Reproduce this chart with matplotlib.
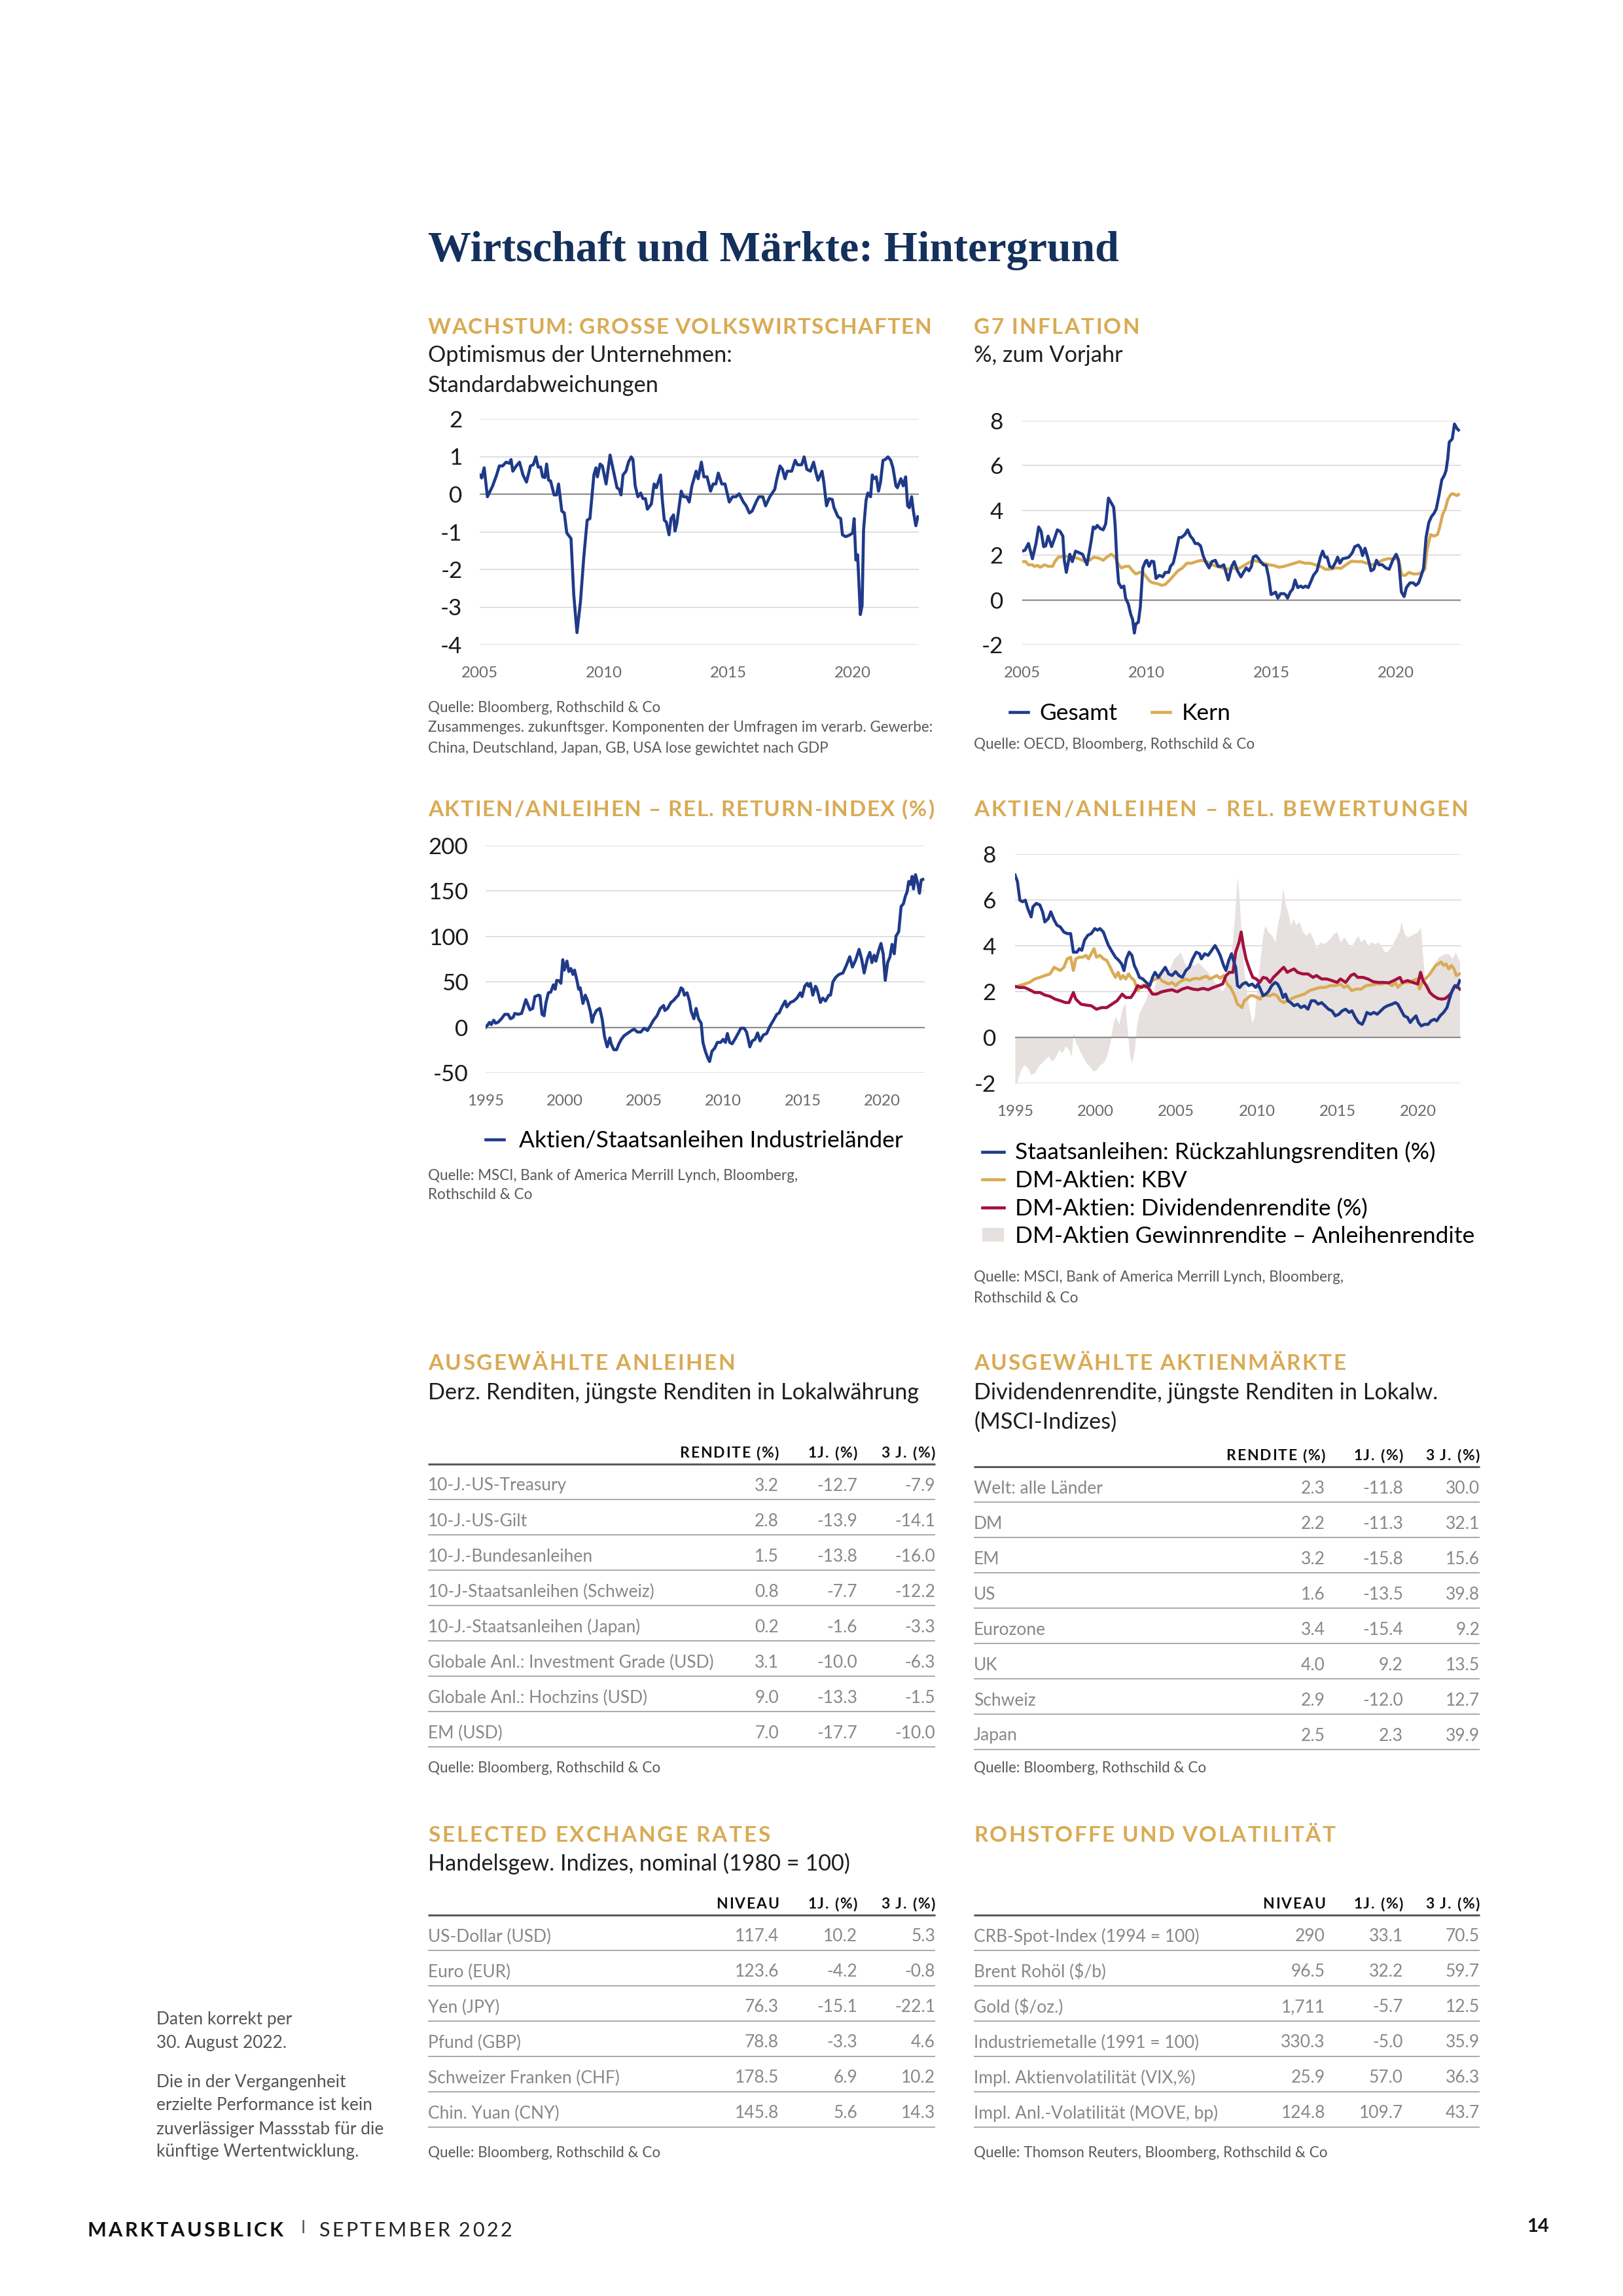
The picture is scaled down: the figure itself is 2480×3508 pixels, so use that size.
import matplotlib
matplotlib.use('Agg')
import matplotlib.pyplot as plt
from matplotlib.lines import Line2D
from matplotlib.font_manager import FontProperties

# ---------------- data ----------------
# business optimism, std. deviations (year, value)
growth = [(2005.00, 0.51), (2005.08, 0.43), (2005.18, 0.70), (2005.31, -0.07), (2005.52, 0.22), (2005.68, 0.51),
          (2005.79, 0.75), (2005.92, 0.75), (2006.06, 0.85), (2006.19, 0.82), (2006.26, 0.92), (2006.33, 0.61),
          (2006.47, 0.75), (2006.60, 0.85), (2006.74, 0.51), (2006.88, 0.32), (2007.04, 0.75), (2007.15, 0.78),
          (2007.26, 0.99), (2007.35, 0.72), (2007.45, 0.72), (2007.53, 0.46), (2007.62, 0.44), (2007.69, 0.80),
          (2007.77, 0.37), (2007.85, 0.35), (2007.99, -0.02), (2008.09, -0.02), (2008.17, 0.27), (2008.30, -0.45),
          (2008.40, -0.50), (2008.50, -1.03), (2008.67, -1.18), (2008.78, -2.67), (2008.91, -3.68), (2009.05, -2.86),
          (2009.18, -1.70), (2009.32, -0.69), (2009.43, -0.65), (2009.59, 0.51), (2009.67, 0.70), (2009.73, 0.46),
          (2009.84, 0.80), (2009.93, 0.75), (2010.08, 0.27), (2010.24, 1.04), (2010.35, 0.70), (2010.52, 0.17),
          (2010.61, 0.13), (2010.68, -0.02), (2010.76, 0.51), (2010.88, 0.61), (2010.98, 0.85), (2011.09, 0.99),
          (2011.16, 0.92), (2011.25, 0.22), (2011.36, -0.07), (2011.47, 0.03), (2011.56, -0.12), (2011.66, -0.12),
          (2011.74, -0.40), (2011.90, -0.26), (2012.01, 0.27), (2012.10, 0.17), (2012.27, 0.51), (2012.34, -0.16),
          (2012.42, -0.69), (2012.50, -0.74), (2012.61, -1.08), (2012.69, -0.65), (2012.79, -0.55), (2012.85, -0.98),
          (2012.92, -0.79), (2013.10, 0.08), (2013.19, -0.07), (2013.32, -0.07), (2013.42, -0.21), (2013.53, 0.22),
          (2013.70, 0.61), (2013.78, 0.41), (2013.91, 0.85), (2014.01, 0.46), (2014.14, 0.46), (2014.28, 0.08),
          (2014.38, 0.27), (2014.49, 0.27), (2014.59, 0.56), (2014.73, 0.27), (2014.86, 0.27), (2015.03, -0.21),
          (2015.16, -0.07), (2015.30, -0.07), (2015.43, 0.01), (2015.60, -0.21), (2015.71, -0.31), (2015.84, -0.50),
          (2015.95, -0.45), (2016.11, -0.21), (2016.22, -0.07), (2016.38, -0.07), (2016.49, -0.31), (2016.66, -0.07),
          (2016.86, 0.13), (2016.93, 0.37), (2017.07, 0.75), (2017.17, 0.66), (2017.27, 0.41), (2017.36, 0.61),
          (2017.54, 0.61), (2017.68, 0.90), (2017.77, 0.78), (2017.94, 0.78), (2018.04, 0.99), (2018.15, 0.66),
          (2018.29, 0.61), (2018.42, 0.85), (2018.52, 0.56), (2018.60, 0.37), (2018.76, 0.61), (2018.83, 0.32),
          (2018.94, -0.31), (2019.04, -0.12), (2019.17, -0.14), (2019.24, -0.36), (2019.40, -0.60), (2019.51, -0.65),
          (2019.58, -1.08), (2019.71, -1.13), (2019.89, -1.08), (2019.99, -1.03), (2020.05, -0.65), (2020.12, -1.75),
          (2020.19, -1.61), (2020.30, -3.20), (2020.37, -2.96), (2020.43, -0.93), (2020.53, -0.16), (2020.60, 0.03),
          (2020.71, -0.07), (2020.78, 0.51), (2020.84, 0.41), (2020.94, 0.46), (2021.03, 0.08), (2021.11, 0.32),
          (2021.21, 0.90), (2021.30, 0.92), (2021.41, 0.99), (2021.52, 0.90), (2021.61, 0.70), (2021.73, 0.22),
          (2021.79, 0.17), (2021.93, 0.41), (2022.02, 0.22), (2022.12, 0.46), (2022.20, -0.31), (2022.27, -0.36),
          (2022.36, -0.07), (2022.43, -0.45), (2022.53, -0.84), (2022.61, -0.60)]

# G7 inflation, headline (Gesamt) and core (Kern)
infl_total = [(2005.00, 2.18), (2005.11, 2.22), (2005.25, 2.52), (2005.41, 1.84), (2005.55, 2.52), (2005.66, 3.26),
              (2005.76, 3.06), (2005.86, 2.38), (2005.94, 2.41), (2006.04, 2.85), (2006.18, 2.38), (2006.31, 2.79),
              (2006.41, 3.13), (2006.52, 3.06), (2006.63, 2.85), (2006.69, 1.77), (2006.77, 1.23), (2006.91, 2.04),
              (2007.01, 1.71), (2007.14, 2.18), (2007.28, 2.11), (2007.42, 2.04), (2007.60, 1.57), (2007.77, 2.65),
              (2007.85, 3.26), (2007.93, 3.19), (2008.01, 3.33), (2008.13, 3.19), (2008.25, 3.13), (2008.35, 3.40),
              (2008.46, 4.55), (2008.57, 4.34), (2008.67, 4.14), (2008.73, 3.33), (2008.80, 1.71), (2008.87, 0.76),
              (2008.98, 0.55), (2009.08, 0.62), (2009.15, 0.08), (2009.26, -0.19), (2009.36, -0.66), (2009.43, -0.87),
              (2009.50, -1.48), (2009.56, -1.07), (2009.66, -1.00), (2009.74, -0.32), (2009.84, 1.43), (2009.95, 1.73),
              (2010.00, 1.77), (2010.09, 1.50), (2010.19, 1.73), (2010.28, 1.71), (2010.37, 0.96), (2010.50, 1.10),
              (2010.64, 1.03), (2010.74, 1.23), (2010.88, 1.23), (2010.95, 1.50), (2011.06, 1.64), (2011.16, 2.11),
              (2011.29, 2.79), (2011.39, 2.79), (2011.53, 2.92), (2011.64, 3.13), (2011.75, 2.85), (2011.85, 2.72),
              (2011.94, 2.52), (2012.05, 2.52), (2012.16, 2.41), (2012.26, 1.98), (2012.36, 1.71), (2012.50, 1.43),
              (2012.61, 1.71), (2012.75, 1.77), (2012.86, 1.50), (2012.99, 1.50), (2013.09, 1.57), (2013.27, 0.89),
              (2013.41, 1.50), (2013.51, 1.71), (2013.64, 1.30), (2013.78, 1.03), (2013.88, 1.23), (2013.99, 1.43),
              (2014.10, 1.30), (2014.20, 1.50), (2014.27, 1.91), (2014.38, 1.98), (2014.47, 1.87), (2014.57, 1.71),
              (2014.68, 1.57), (2014.79, 1.54), (2014.89, 1.03), (2014.99, 0.24), (2015.07, 0.28), (2015.17, 0.35),
              (2015.26, 0.08), (2015.37, 0.28), (2015.51, 0.28), (2015.58, 0.22), (2015.65, 0.08), (2015.76, 0.35),
              (2015.86, 0.49), (2015.95, 0.89), (2016.06, 0.55), (2016.18, 0.62), (2016.27, 0.55), (2016.37, 0.62),
              (2016.48, 0.55), (2016.59, 0.83), (2016.69, 1.10), (2016.83, 1.30), (2016.97, 1.91), (2017.06, 2.18),
              (2017.15, 1.91), (2017.24, 1.91), (2017.34, 1.50), (2017.45, 1.43), (2017.59, 1.71), (2017.66, 1.91),
              (2017.75, 1.64), (2017.86, 1.84), (2018.00, 1.87), (2018.11, 1.91), (2018.25, 2.11), (2018.35, 2.38),
              (2018.49, 2.45), (2018.58, 2.31), (2018.66, 1.98), (2018.76, 2.31), (2018.90, 1.77), (2019.00, 1.30),
              (2019.11, 1.37), (2019.22, 1.77), (2019.32, 1.57), (2019.45, 1.57), (2019.59, 1.43), (2019.73, 1.37),
              (2019.87, 1.77), (2020.01, 2.04), (2020.11, 1.77), (2020.22, 0.35), (2020.33, 0.15), (2020.42, 0.55),
              (2020.56, 0.76), (2020.70, 0.76), (2020.80, 0.65), (2020.91, 0.76), (2021.02, 1.10), (2021.11, 1.43),
              (2021.21, 2.79), (2021.32, 3.46), (2021.43, 3.73), (2021.53, 3.87), (2021.62, 4.07), (2021.73, 4.68),
              (2021.84, 5.36), (2021.94, 5.56), (2022.01, 5.77), (2022.08, 6.31), (2022.14, 7.05), (2022.26, 7.19),
              (2022.35, 7.86), (2022.45, 7.66), (2022.51, 7.59)]

infl_core = [(2005.00, 1.71), (2005.14, 1.71), (2005.25, 1.57), (2005.41, 1.57), (2005.48, 1.50), (2005.62, 1.54),
             (2005.72, 1.46), (2005.90, 1.57), (2006.04, 1.50), (2006.22, 1.50), (2006.31, 1.71), (2006.45, 1.91),
             (2006.66, 1.95), (2006.87, 1.95), (2007.07, 1.91), (2007.28, 1.84), (2007.49, 1.73), (2007.70, 1.77),
             (2007.88, 1.91), (2008.07, 1.87), (2008.25, 1.77), (2008.39, 1.91), (2008.57, 2.04), (2008.73, 1.91),
             (2008.87, 1.57), (2008.98, 1.43), (2009.15, 1.50), (2009.29, 1.50), (2009.43, 1.30), (2009.56, 1.16),
             (2009.70, 1.23), (2009.84, 1.23), (2009.98, 1.03), (2010.12, 0.83), (2010.26, 0.76), (2010.42, 0.73),
             (2010.60, 0.65), (2010.74, 0.69), (2010.92, 0.89), (2011.09, 1.10), (2011.25, 1.30), (2011.43, 1.43),
             (2011.61, 1.64), (2011.80, 1.64), (2011.98, 1.71), (2012.19, 1.77), (2012.40, 1.71), (2012.61, 1.57),
             (2012.81, 1.50), (2013.02, 1.43), (2013.23, 1.37), (2013.44, 1.43), (2013.64, 1.37), (2013.85, 1.50),
             (2014.06, 1.64), (2014.27, 1.77), (2014.47, 1.71), (2014.68, 1.64), (2014.89, 1.57), (2015.10, 1.54),
             (2015.30, 1.46), (2015.51, 1.50), (2015.72, 1.57), (2015.93, 1.64), (2016.13, 1.71), (2016.34, 1.64),
             (2016.55, 1.64), (2016.76, 1.57), (2016.97, 1.50), (2017.17, 1.37), (2017.38, 1.37), (2017.59, 1.43),
             (2017.80, 1.41), (2018.00, 1.57), (2018.21, 1.73), (2018.42, 1.71), (2018.62, 1.71), (2018.83, 1.64),
             (2019.04, 1.57), (2019.25, 1.64), (2019.45, 1.77), (2019.66, 1.84), (2019.87, 1.84), (2020.05, 1.84),
             (2020.15, 1.57), (2020.24, 1.10), (2020.38, 1.10), (2020.52, 1.23), (2020.70, 1.16), (2020.88, 1.16),
             (2021.05, 1.23), (2021.16, 1.37), (2021.25, 2.25), (2021.39, 2.92), (2021.53, 2.85), (2021.67, 2.92),
             (2021.76, 3.26), (2021.87, 3.80), (2021.98, 4.07), (2022.08, 4.48), (2022.18, 4.68), (2022.26, 4.75),
             (2022.35, 4.71), (2022.45, 4.66), (2022.51, 4.71)]

# equity / bond relative return index (%)
rel_return = [(1995.00, 0.0), (1995.15, 3.0), (1995.25, 5.5), (1995.36, 3.0), (1995.51, 7.8), (1995.63, 4.5),
              (1995.78, 5.5), (1996.00, 9.4), (1996.21, 14.3), (1996.42, 14.3), (1996.57, 9.4), (1996.74, 11.0),
              (1996.84, 15.3), (1997.06, 14.3), (1997.27, 15.3), (1997.37, 20.8), (1997.54, 30.5), (1997.69, 24.0),
              (1997.80, 19.2), (1997.97, 20.8), (1998.11, 33.8), (1998.33, 35.4), (1998.43, 34.8), (1998.56, 14.3),
              (1998.69, 12.7), (1998.81, 27.3), (1998.96, 38.0), (1999.11, 38.7), (1999.28, 46.8), (1999.39, 41.9),
              (1999.49, 51.7), (1999.66, 51.0), (1999.75, 48.4), (1999.87, 74.4), (1999.96, 63.0), (2000.13, 72.8),
              (2000.25, 61.4), (2000.38, 64.7), (2000.51, 58.2), (2000.61, 63.0), (2000.76, 51.7), (2000.87, 41.9),
              (2000.97, 43.5), (2001.14, 26.3), (2001.29, 35.4), (2001.44, 28.9), (2001.61, 17.5), (2001.72, 5.5),
              (2001.82, 12.7), (2001.99, 18.5), (2002.20, 20.8), (2002.35, 9.4), (2002.50, -10.0), (2002.67, -21.5),
              (2002.84, -11.7), (2002.92, -18.2), (2003.09, -24.7), (2003.26, -24.7), (2003.41, -18.2), (2003.56, -13.3),
              (2003.73, -9.4), (2003.94, -6.8), (2004.15, -4.2), (2004.36, -2.0), (2004.58, -5.2), (2004.79, -5.2),
              (2005.00, -1.0), (2005.21, -3.6), (2005.38, 1.3), (2005.59, 7.8), (2005.81, 12.7), (2006.02, 20.8),
              (2006.23, 24.0), (2006.31, 18.5), (2006.48, 20.8), (2006.69, 27.3), (2006.86, 29.6), (2007.01, 32.8),
              (2007.16, 35.4), (2007.33, 43.5), (2007.44, 41.9), (2007.54, 35.4), (2007.71, 38.0), (2007.86, 28.9),
              (2007.97, 17.5), (2008.14, 9.4), (2008.28, 20.8), (2008.43, 9.4), (2008.60, 4.5), (2008.71, -16.6),
              (2008.86, -26.3), (2009.03, -34.4), (2009.13, -37.7), (2009.28, -26.3), (2009.45, -23.0), (2009.62, -16.6),
              (2009.83, -16.6), (2009.98, -13.3), (2010.13, -16.6), (2010.25, -6.8), (2010.40, -16.6), (2010.55, -18.2),
              (2010.72, -13.3), (2010.93, -6.8), (2011.10, -1.0), (2011.31, -1.0), (2011.46, -5.2), (2011.57, -13.3),
              (2011.67, -21.5), (2011.82, -15.0), (2011.99, -13.3), (2012.16, -6.2), (2012.31, -15.0), (2012.52, -8.5),
              (2012.73, -6.8), (2012.94, 1.3), (2013.16, 7.8), (2013.37, 14.3), (2013.52, 15.9), (2013.69, 22.4),
              (2013.90, 28.9), (2014.00, 22.4), (2014.22, 27.3), (2014.43, 28.9), (2014.64, 32.2), (2014.85, 38.0),
              (2014.96, 33.8), (2015.13, 45.2), (2015.28, 48.4), (2015.38, 45.2), (2015.49, 48.4), (2015.64, 35.4),
              (2015.81, 45.2), (2015.91, 41.9), (2016.12, 27.3), (2016.27, 32.2), (2016.44, 28.9), (2016.65, 35.4),
              (2016.76, 35.4), (2016.91, 50.0), (2017.08, 54.9), (2017.29, 58.2), (2017.54, 59.8), (2017.75, 67.9),
              (2017.97, 77.7), (2018.14, 66.3), (2018.35, 74.4), (2018.56, 85.8), (2018.73, 74.4), (2018.88, 59.8),
              (2019.09, 76.0), (2019.24, 82.5), (2019.37, 71.2), (2019.51, 79.3), (2019.62, 72.8), (2019.79, 84.2),
              (2019.94, 92.3), (2020.08, 80.9), (2020.21, 51.7), (2020.36, 71.2), (2020.51, 77.7), (2020.64, 91.3),
              (2020.78, 80.9), (2020.89, 100.4), (2021.06, 105.3), (2021.21, 132.9), (2021.36, 136.2), (2021.48, 144.3),
              (2021.59, 149.2), (2021.69, 160.5), (2021.80, 157.3), (2021.91, 166.1), (2021.99, 152.4), (2022.12, 168.0),
              (2022.27, 157.3), (2022.37, 147.6), (2022.48, 162.2), (2022.58, 162.8)]

# relative valuations: bond yields, DM P/B, DM dividend yield, earnings yield gap
bond_yld = [(1995.00, 7.09), (1995.15, 6.80), (1995.30, 5.99), (1995.47, 5.92), (1995.64, 5.99), (1995.79, 5.63),
            (1996.00, 5.26), (1996.11, 5.70), (1996.32, 5.85), (1996.54, 5.78), (1996.71, 5.48), (1996.85, 5.04),
            (1997.07, 5.19), (1997.22, 5.48), (1997.43, 5.12), (1997.60, 4.90), (1997.81, 4.82), (1998.03, 4.60),
            (1998.24, 4.53), (1998.45, 4.53), (1998.62, 3.72), (1998.84, 3.72), (1998.99, 3.87), (1999.14, 3.80),
            (1999.31, 4.24), (1999.52, 4.46), (1999.73, 4.53), (1999.95, 4.75), (2000.12, 4.68), (2000.27, 4.75),
            (2000.48, 4.60), (2000.63, 4.31), (2000.80, 4.01), (2000.97, 3.80), (2001.23, 3.50), (2001.44, 3.36),
            (2001.61, 3.21), (2001.76, 2.92), (2001.91, 3.43), (2002.08, 3.72), (2002.25, 3.58), (2002.40, 3.14),
            (2002.55, 2.92), (2002.72, 2.62), (2002.93, 2.55), (2003.14, 2.40), (2003.36, 2.26), (2003.53, 2.62),
            (2003.68, 2.84), (2003.89, 2.62), (2004.10, 2.84), (2004.32, 3.06), (2004.53, 2.77), (2004.74, 2.70),
            (2004.96, 2.87), (2005.17, 2.70), (2005.38, 2.62), (2005.60, 2.92), (2005.81, 3.06), (2006.02, 3.43),
            (2006.24, 3.72), (2006.45, 3.65), (2006.56, 3.43), (2006.77, 3.65), (2006.98, 3.58), (2007.20, 3.80),
            (2007.41, 4.01), (2007.58, 3.80), (2007.73, 3.58), (2007.94, 3.14), (2008.09, 2.92), (2008.26, 3.36),
            (2008.43, 3.65), (2008.58, 3.29), (2008.69, 3.06), (2008.80, 2.26), (2008.94, 2.18), (2009.12, 2.33),
            (2009.33, 2.40), (2009.50, 2.26), (2009.71, 2.33), (2009.93, 2.18), (2010.07, 2.33), (2010.22, 2.11),
            (2010.39, 1.82), (2010.56, 1.89), (2010.71, 1.99), (2010.93, 2.26), (2011.14, 2.40), (2011.29, 2.33),
            (2011.46, 2.11), (2011.63, 1.74), (2011.78, 1.89), (2011.93, 1.60), (2012.10, 1.52), (2012.31, 1.38),
            (2012.53, 1.45), (2012.74, 1.30), (2012.95, 1.38), (2013.17, 1.23), (2013.38, 1.60), (2013.59, 1.60),
            (2013.81, 1.45), (2014.02, 1.52), (2014.23, 1.38), (2014.45, 1.23), (2014.66, 1.16), (2014.87, 0.94),
            (2015.09, 1.01), (2015.30, 1.16), (2015.51, 1.23), (2015.73, 1.09), (2015.90, 1.16), (2016.11, 0.87),
            (2016.32, 0.65), (2016.54, 0.57), (2016.68, 0.79), (2016.83, 1.09), (2017.05, 1.01), (2017.26, 1.09),
            (2017.47, 1.01), (2017.69, 1.16), (2017.90, 1.30), (2018.11, 1.38), (2018.39, 1.45), (2018.60, 1.52),
            (2018.75, 1.45), (2018.92, 1.23), (2019.14, 0.94), (2019.35, 0.87), (2019.52, 0.65), (2019.67, 0.79),
            (2019.88, 0.94), (2020.03, 0.65), (2020.20, 0.50), (2020.41, 0.57), (2020.63, 0.57), (2020.80, 0.72),
            (2021.01, 0.79), (2021.16, 0.72), (2021.37, 0.94), (2021.59, 1.09), (2021.80, 1.30), (2021.95, 1.67),
            (2022.12, 2.04), (2022.29, 2.26), (2022.43, 2.18), (2022.59, 2.48)]

dm_pb = [(1995.00, 2.18), (1995.26, 2.26), (1995.58, 2.33), (1995.90, 2.40), (1996.22, 2.55), (1996.54, 2.62),
         (1996.85, 2.70), (1997.17, 2.77), (1997.43, 3.06), (1997.60, 2.99), (1997.81, 2.92), (1998.03, 3.06),
         (1998.24, 3.43), (1998.45, 3.50), (1998.62, 2.92), (1998.77, 3.43), (1998.99, 3.50), (1999.20, 3.50),
         (1999.41, 3.58), (1999.56, 3.43), (1999.73, 3.65), (1999.90, 3.87), (2000.05, 3.50), (2000.27, 3.58),
         (2000.48, 3.43), (2000.69, 3.36), (2000.91, 3.06), (2001.06, 2.84), (2001.23, 2.62), (2001.40, 2.84),
         (2001.55, 2.55), (2001.70, 2.70), (2001.87, 2.55), (2002.04, 2.77), (2002.19, 2.62), (2002.40, 2.48),
         (2002.61, 2.04), (2002.76, 2.18), (2002.93, 2.29), (2003.10, 2.18), (2003.32, 2.33), (2003.53, 2.48),
         (2003.74, 2.55), (2003.96, 2.62), (2004.10, 2.48), (2004.32, 2.40), (2004.53, 2.33), (2004.74, 2.40),
         (2004.96, 2.26), (2005.17, 2.40), (2005.38, 2.48), (2005.59, 2.55), (2005.81, 2.48), (2006.02, 2.55),
         (2006.24, 2.58), (2006.45, 2.55), (2006.66, 2.62), (2006.87, 2.67), (2007.09, 2.55), (2007.30, 2.62),
         (2007.52, 2.70), (2007.73, 2.58), (2007.94, 2.70), (2008.16, 2.33), (2008.37, 2.18), (2008.58, 1.89),
         (2008.80, 1.45), (2008.94, 1.38), (2009.07, 1.30), (2009.22, 1.60), (2009.37, 1.67), (2009.58, 1.82),
         (2009.80, 1.82), (2010.01, 1.74), (2010.22, 1.67), (2010.39, 1.89), (2010.61, 1.82), (2010.82, 1.82),
         (2011.03, 1.89), (2011.25, 1.82), (2011.46, 1.60), (2011.67, 1.52), (2011.89, 1.60), (2012.10, 1.67),
         (2012.31, 1.74), (2012.63, 1.82), (2012.95, 1.89), (2013.27, 2.04), (2013.59, 2.11), (2013.91, 2.18),
         (2014.23, 2.18), (2014.55, 2.26), (2014.87, 2.26), (2015.19, 2.33), (2015.41, 2.18), (2015.62, 2.26),
         (2015.90, 2.04), (2016.15, 2.11), (2016.47, 2.11), (2016.79, 2.26), (2017.11, 2.29), (2017.43, 2.33),
         (2017.75, 2.33), (2018.07, 2.40), (2018.39, 2.26), (2018.60, 2.40), (2018.75, 2.18), (2018.97, 2.33),
         (2019.18, 2.40), (2019.46, 2.40), (2019.67, 2.48), (2019.95, 2.55), (2020.10, 2.11), (2020.25, 2.40),
         (2020.46, 2.55), (2020.67, 2.70), (2020.88, 2.92), (2021.10, 3.14), (2021.27, 3.21), (2021.44, 3.29),
         (2021.59, 3.14), (2021.74, 3.21), (2021.91, 2.99), (2022.08, 3.14), (2022.23, 2.99), (2022.38, 2.70),
         (2022.59, 2.77)]

dm_div = [(1995.00, 2.23), (1995.26, 2.18), (1995.58, 2.18), (1995.90, 2.08), (1996.22, 1.96), (1996.54, 1.96),
          (1996.85, 1.85), (1997.17, 1.79), (1997.49, 1.67), (1997.81, 1.60), (1998.13, 1.52), (1998.35, 1.52),
          (1998.62, 1.96), (1998.77, 1.67), (1999.09, 1.45), (1999.41, 1.41), (1999.73, 1.38), (2000.05, 1.23),
          (2000.37, 1.30), (2000.69, 1.30), (2001.01, 1.45), (2001.33, 1.60), (2001.65, 1.89), (2001.87, 1.74),
          (2002.19, 1.74), (2002.40, 1.96), (2002.61, 2.26), (2002.83, 2.18), (2003.04, 2.26), (2003.25, 2.18),
          (2003.53, 1.89), (2003.78, 1.89), (2004.10, 1.99), (2004.42, 2.04), (2004.74, 2.08), (2005.06, 1.99),
          (2005.38, 2.11), (2005.70, 2.18), (2006.02, 2.11), (2006.34, 2.08), (2006.66, 2.14), (2006.98, 2.08),
          (2007.30, 2.18), (2007.62, 2.26), (2007.88, 2.33), (2008.09, 2.70), (2008.30, 2.84), (2008.52, 2.84),
          (2008.69, 3.72), (2008.90, 4.16), (2009.03, 4.60), (2009.16, 4.01), (2009.33, 3.43), (2009.54, 2.99),
          (2009.75, 2.62), (2009.97, 2.55), (2010.18, 2.40), (2010.39, 2.62), (2010.61, 2.58), (2010.82, 2.40),
          (2011.03, 2.62), (2011.25, 2.77), (2011.46, 2.92), (2011.67, 3.06), (2011.89, 2.84), (2012.10, 2.92),
          (2012.31, 2.99), (2012.53, 2.84), (2012.85, 2.77), (2013.17, 2.77), (2013.49, 2.62), (2013.70, 2.70),
          (2014.02, 2.55), (2014.34, 2.55), (2014.66, 2.48), (2014.98, 2.40), (2015.19, 2.55), (2015.51, 2.40),
          (2015.83, 2.70), (2016.04, 2.77), (2016.26, 2.62), (2016.58, 2.62), (2016.90, 2.55), (2017.22, 2.43),
          (2017.54, 2.40), (2017.86, 2.40), (2018.18, 2.38), (2018.50, 2.48), (2018.88, 2.62), (2019.03, 2.40),
          (2019.35, 2.48), (2019.67, 2.40), (2019.99, 2.33), (2020.16, 2.84), (2020.31, 2.48), (2020.52, 2.26),
          (2020.74, 1.96), (2020.95, 1.82), (2021.23, 1.70), (2021.48, 1.67), (2021.70, 1.70), (2021.91, 1.82),
          (2022.08, 1.96), (2022.23, 2.18), (2022.38, 2.26), (2022.59, 2.11)]

yield_gap = [(1995.00, -2.43), (1995.15, -1.85), (1995.36, -1.41), (1995.58, -1.19), (1995.79, -1.33), (1996.00, -1.63),
             (1996.22, -1.55), (1996.43, -1.26), (1996.64, -1.11), (1996.85, -0.97), (1997.07, -0.82), (1997.28, -1.04),
             (1997.49, -0.89), (1997.71, -0.53), (1997.92, -0.67), (1998.13, -0.38), (1998.35, -0.53), (1998.50, -0.82),
             (1998.62, 0.21), (1998.77, -0.23), (1998.99, -0.53), (1999.20, -0.82), (1999.41, -1.11), (1999.63, -1.26),
             (1999.84, -1.48), (2000.05, -1.41), (2000.27, -1.19), (2000.48, -1.11), (2000.69, -0.82), (2000.91, -0.23),
             (2001.06, 0.50), (2001.23, 0.94), (2001.44, 0.57), (2001.65, 1.23), (2001.82, 1.52), (2001.97, 0.35),
             (2002.12, -0.82), (2002.25, -1.11), (2002.40, -0.60), (2002.55, 0.50), (2002.72, 1.08), (2002.93, 1.38),
             (2003.14, 1.67), (2003.36, 2.26), (2003.57, 1.96), (2003.78, 2.55), (2004.00, 2.70), (2004.21, 2.99),
             (2004.42, 2.84), (2004.64, 3.06), (2004.85, 3.43), (2005.06, 3.58), (2005.28, 3.72), (2005.49, 3.28),
             (2005.70, 3.06), (2005.92, 3.21), (2006.13, 3.14), (2006.34, 3.28), (2006.56, 3.14), (2006.77, 2.99),
             (2006.98, 2.84), (2007.20, 2.62), (2007.41, 2.40), (2007.62, 2.26), (2007.84, 1.96), (2008.05, 2.26),
             (2008.26, 3.14), (2008.48, 4.01), (2008.65, 5.48), (2008.80, 7.02), (2008.90, 6.21), (2009.07, 4.16),
             (2009.22, 2.84), (2009.37, 1.96), (2009.54, 1.23), (2009.71, 0.64), (2009.86, 0.94), (2010.01, 2.26),
             (2010.18, 3.14), (2010.35, 4.31), (2010.50, 4.89), (2010.71, 4.60), (2010.93, 4.45), (2011.14, 4.16),
             (2011.29, 4.89), (2011.46, 5.48), (2011.63, 6.51), (2011.78, 5.77), (2011.93, 5.48), (2012.10, 4.89),
             (2012.27, 5.19), (2012.42, 4.89), (2012.63, 5.04), (2012.85, 4.60), (2013.06, 4.45), (2013.27, 4.60),
             (2013.49, 4.31), (2013.70, 3.87), (2013.91, 4.16), (2014.13, 4.09), (2014.34, 4.16), (2014.55, 4.31),
             (2014.77, 4.53), (2014.98, 4.60), (2015.19, 4.16), (2015.41, 4.38), (2015.62, 4.16), (2015.83, 3.94),
             (2016.04, 4.16), (2016.26, 4.45), (2016.47, 4.16), (2016.68, 4.31), (2016.90, 4.01), (2017.11, 4.16),
             (2017.32, 4.09), (2017.54, 4.16), (2017.75, 3.94), (2017.96, 3.72), (2018.18, 3.80), (2018.39, 4.01),
             (2018.60, 4.31), (2018.82, 4.60), (2018.97, 5.04), (2019.14, 4.53), (2019.35, 4.38), (2019.56, 4.45),
             (2019.78, 4.53), (2019.99, 4.60), (2020.16, 4.82), (2020.31, 3.43), (2020.46, 2.26), (2020.63, 2.40),
             (2020.84, 2.84), (2021.06, 3.28), (2021.27, 3.50), (2021.48, 3.58), (2021.70, 3.65), (2021.91, 3.65),
             (2022.12, 3.43), (2022.33, 3.72), (2022.59, 3.28)]

# tables
bond_labels = ['10-J.-US-Treasury', '10-J.-US-Gilt', '10-J.-Bundesanleihen', '10-J-Staatsanleihen (Schweiz)',
               '10-J.-Staatsanleihen (Japan)', 'Globale Anl.: Investment Grade (USD)', 'Globale Anl.: Hochzins (USD)',
               'EM (USD)']
bond_yield = [3.2, 2.8, 1.5, 0.8, 0.2, 3.1, 9.0, 7.0]
bond_1y = [-12.7, -13.9, -13.8, -7.7, -1.6, -10.0, -13.3, -17.7]
bond_3y = [-7.9, -14.1, -16.0, -12.2, -3.3, -6.3, -1.5, -10.0]

eq_labels = ['Welt: alle Länder', 'DM', 'EM', 'US', 'Eurozone', 'UK', 'Schweiz', 'Japan']
eq_yield = [2.3, 2.2, 3.2, 1.6, 3.4, 4.0, 2.9, 2.5]
eq_1y = [-11.8, -11.3, -15.8, -13.5, -15.4, 9.2, -12.0, 2.3]
eq_3y = [30.0, 32.1, 15.6, 39.8, 9.2, 13.5, 12.7, 39.9]

fx_labels = ['US-Dollar (USD)', 'Euro (EUR)', 'Yen (JPY)', 'Pfund (GBP)', 'Schweizer Franken (CHF)', 'Chin. Yuan (CNY)']
fx_level = [117.4, 123.6, 76.3, 78.8, 178.5, 145.8]
fx_1y = [10.2, -4.2, -15.1, -3.3, 6.9, 5.6]
fx_3y = [5.3, -0.8, -22.1, 4.6, 10.2, 14.3]

com_labels = ['CRB-Spot-Index (1994 = 100)', 'Brent Rohöl (\\$/b)', 'Gold (\\$/oz.)', 'Industriemetalle (1991 = 100)',
              'Impl. Aktienvolatilität (VIX,%)', 'Impl. Anl.-Volatilität (MOVE, bp)']
com_level = ['290', '96.5', '1,711', '330.3', '25.9', '124.8']
com_1y = [33.1, 32.2, -5.7, -5.0, 57.0, 109.7]
com_3y = [70.5, 59.7, 12.5, 35.9, 36.3, 43.7]

# ---------------- styling ----------------
W, H = 2480, 3508
SANS = ['Lato', 'DejaVu Sans']
SERIF = ['Liberation Serif', 'DejaVu Serif']
NAVY_T = '#14305c'
GOLD = '#d9ab55'
BLUE = '#1f3a8a'
CRIMSON = '#a3103f'
SHADE = '#e6e0df'
GRID = '#dcdcdc'
ZERO = '#8e8e8e'
SRC_C = '#5a5a5a'
ROW_C = '#888888'

fig = plt.figure(figsize=(W / 100, H / 100), dpi=100)
fig.patch.set_facecolor('white')
renderer = fig.canvas.get_renderer()


def fx(x):
    return x / W


def fy(y):
    return 1 - y / H


def width_of(s, size, weight='normal', family=SANS):
    fp = FontProperties(family=family, size=size, weight=weight)
    return renderer.get_text_width_height_descent(s, fp, ismath=False)[0]


def fit(s, target, weight='normal', family=SANS):
    return 20 * target / width_of(s, 20, weight, family)


def txt(x, y, s, size, color='#1e1e1e', weight='normal', ha='left', va='center', family=SANS):
    return fig.text(fx(x), fy(y), s, fontsize=size, color=color, fontweight=weight,
                    ha=ha, va=va, family=family)


def tracked(x, yc, s, size, color, weight='bold', ha='left', track=None, width=None):
    fp = FontProperties(family=SANS, size=size, weight=weight)
    em = size * 100 / 72
    ws = [0.22 * em if ch == ' ' else renderer.get_text_width_height_descent(ch, fp, ismath=False)[0] for ch in s]
    if width is not None:
        track = (width - sum(ws)) / (len(s) - 1)
    total = sum(ws) + track * (len(s) - 1)
    x0 = x - total if ha == 'right' else x
    base = yc + 0.358 * em
    for ch, w in zip(s, ws):
        if ch != ' ':
            fig.text(fx(x0), fy(base), ch, fontproperties=fp, color=color, ha='left', va='baseline')
        x0 += w + track


def hline(x0, x1, y, color, lw):
    fig.add_artist(Line2D([fx(x0), fx(x1)], [fy(y), fy(y)], transform=fig.transFigure, color=color, lw=lw,
                          solid_capstyle='butt'))


# class sizes calibrated on widths measured from the page
SUB = fit('Derz. Renditen, jüngste Renditen in Lokalwährung', 753)
LEG = fit('DM-Aktien Gewinnrendite – Anleihenrendite', 706)
SRC = fit('Quelle: MSCI, Bank of America Merrill Lynch, Bloomberg,', 566)
ROW = fit('Schweizer Franken (CHF)', 293)
SIDE = fit('zuverlässiger Massstab für die', 347)
YT = fit('200', 61)
XT = fit('2005', 56)
HEAD = 24


def chart(left, top, right, bottom, xlim, ylim, yticks, xticks, ypad):
    ax = fig.add_axes([fx(left), fy(bottom), (right - left) / W, (bottom - top) / H])
    ax.set_xlim(*xlim)
    ax.set_ylim(*ylim)
    ax.patch.set_alpha(0)
    for sp in ax.spines.values():
        sp.set_visible(False)
    ax.set_yticks(yticks)
    ax.set_yticklabels([f'{t:g}' for t in yticks], family=SANS, fontsize=YT, color='#1a1a1a')
    ax.set_xticks(xticks)
    ax.set_xticklabels([str(t) for t in xticks], family=SANS, fontsize=XT, color='#6a6a6a')
    ax.tick_params(axis='y', length=0, pad=ypad)
    ax.tick_params(axis='x', length=0, pad=24)
    for t in yticks:
        if t == 0:
            ax.axhline(t, color=ZERO, lw=1.6, zorder=2)
        else:
            ax.axhline(t, color=GRID, lw=1.3, zorder=0.5)
    return ax


def series(ax, pts, color, label, z=3):
    xs = [p[0] for p in pts]
    ys = [p[1] for p in pts]
    return ax.plot(xs, ys, color=color, lw=3.3, solid_joinstyle='round', label=label, zorder=z)[0]


# ---------------- page title ----------------
txt(654, 383, 'Wirtschaft und Märkte: Hintergrund', fit('Wirtschaft und Märkte: Hintergrund', 1057, 'bold', SERIF),
    color=NAVY_T, weight='bold', family=SERIF)

# ---------------- chart 1 ----------------
tracked(654, 498, 'WACHSTUM: GROSSE VOLKSWIRTSCHAFTEN', HEAD, GOLD, width=769)
txt(654, 543, 'Optimismus der Unternehmen:', SUB)
txt(654, 589, 'Standardabweichungen', SUB)
ax1 = chart(733, 640, 1404, 985, (2005, 2022.65), (-4, 2), [-4, -3, -2, -1, 0, 1, 2], [2005, 2010, 2015, 2020], 19)
series(ax1, growth, BLUE, 'Optimismus')
txt(654, 1082, 'Quelle: Bloomberg, Rothschild & Co', SRC, SRC_C)
txt(654, 1112, 'Zusammenges. zukunftsger. Komponenten der Umfragen im verarb. Gewerbe:', SRC, SRC_C)
txt(654, 1143, 'China, Deutschland, Japan, GB, USA lose gewichtet nach GDP', SRC, SRC_C)

# ---------------- chart 2 ----------------
tracked(1488, 498, 'G7 INFLATION', HEAD, GOLD, width=253)
txt(1488, 543, '%, zum Vorjahr', SUB)
ax2 = chart(1562, 643, 2232, 985, (2005, 2022.6), (-2, 8), [-2, 0, 2, 4, 6, 8], [2005, 2010, 2015, 2020], 21)
l_core = series(ax2, infl_core, GOLD, 'Kern')
l_tot = series(ax2, infl_total, BLUE, 'Gesamt', 4)
ax2.legend([l_tot, l_core], ['Gesamt', 'Kern'], ncol=2, loc='upper left', bbox_to_anchor=(fx(1543), fy(1074)),
           bbox_transform=fig.transFigure, frameon=False, prop=FontProperties(family=SANS, size=LEG),
           handlelength=0.78, handletextpad=0.5, columnspacing=1.5, borderpad=0, borderaxespad=0)
txt(1488, 1138, 'Quelle: OECD, Bloomberg, Rothschild & Co', SRC, SRC_C)

# ---------------- chart 3 ----------------
tracked(654, 1235, 'AKTIEN/ANLEIHEN – REL. RETURN-INDEX (%)', HEAD, GOLD, width=773)
ax3 = chart(742, 1292, 1413, 1639, (1995, 2022.7), (-50, 200), [-50, 0, 50, 100, 150, 200],
            [1995, 2000, 2005, 2010, 2015, 2020], 19)
l_rel = series(ax3, rel_return, BLUE, 'Aktien/Staatsanleihen Industrieländer')
ax3.legend([l_rel], ['Aktien/Staatsanleihen Industrieländer'], loc='upper left', bbox_to_anchor=(fx(742), fy(1727)),
           bbox_transform=fig.transFigure, frameon=False, prop=FontProperties(family=SANS, size=LEG),
           handlelength=0.8, handletextpad=0.65, borderpad=0, borderaxespad=0)
txt(654, 1797, 'Quelle: MSCI, Bank of America Merrill Lynch, Bloomberg,', SRC, SRC_C)
txt(654, 1826, 'Rothschild & Co', SRC, SRC_C)

# ---------------- chart 4 ----------------
tracked(1488, 1235, 'AKTIEN/ANLEIHEN – REL. BEWERTUNGEN', HEAD, GOLD, width=755)
ax4 = chart(1551, 1305, 2232, 1655, (1995, 2022.65), (-2, 8), [-2, 0, 2, 4, 6, 8],
            [1995, 2000, 2005, 2010, 2015, 2020], 21)
gap_area = ax4.fill_between([p[0] for p in yield_gap], 0, [p[1] for p in yield_gap], color=SHADE, lw=0, zorder=1)
l_pb = series(ax4, dm_pb, GOLD, 'DM-Aktien: KBV')
l_dv = series(ax4, dm_div, CRIMSON, 'DM-Aktien: Dividendenrendite (%)')
l_by = series(ax4, bond_yld, BLUE, 'Staatsanleihen: Rückzahlungsrenditen (%)', 4)
ax4.legend([l_by, l_pb, l_dv, gap_area],
           ['Staatsanleihen: Rückzahlungsrenditen (%)', 'DM-Aktien: KBV', 'DM-Aktien: Dividendenrendite (%)',
            'DM-Aktien Gewinnrendite – Anleihenrendite'],
           loc='upper left', bbox_to_anchor=(fx(1501), fy(1744)), bbox_transform=fig.transFigure, frameon=False,
           prop=FontProperties(family=SANS, size=LEG), handlelength=0.92, handleheight=0.55,
           handletextpad=0.5, labelspacing=0.3, borderpad=0, borderaxespad=0)
txt(1488, 1952, 'Quelle: MSCI, Bank of America Merrill Lynch, Bloomberg,', SRC, SRC_C)
txt(1488, 1984, 'Rothschild & Co', SRC, SRC_C)


# ---------------- tables ----------------
def table(x0, x1, cols_x, head_y, line_y, headers, labels, columns):
    for hx, h in zip(cols_x, headers):
        tracked(hx, head_y, h, 16.5, '#111111', 'bold', ha='right', track=1.8)
    hline(x0, x1, line_y, '#5a5a5a', 2.2)
    for i, lab in enumerate(labels):
        yc = line_y + 33 + 54 * i
        txt(x0, yc, lab, ROW, ROW_C)
        for cx, col in zip(cols_x, columns):
            v = col[i]
            txt(cx, yc, v if isinstance(v, str) else f'{v:.1f}', ROW, ROW_C, ha='right')
        hline(x0, x1, yc + 21, '#a9a9a9', 1.4)


L0, L1 = 654, 1429
R0, R1 = 1488, 2261
LC = [1190, 1310, 1429]
RC = [2025, 2144, 2261]

tracked(654, 2081, 'AUSGEWÄHLTE ANLEIHEN', HEAD, GOLD, width=469)
txt(654, 2128, 'Derz. Renditen, jüngste Renditen in Lokalwährung', SUB)
table(L0, L1, LC, 2219, 2237, ['RENDITE (%)', '1J. (%)', '3 J. (%)'], bond_labels, [bond_yield, bond_1y, bond_3y])
txt(654, 2701, 'Quelle: Bloomberg, Rothschild & Co', SRC, SRC_C)

tracked(1488, 2081, 'AUSGEWÄHLTE AKTIENMÄRKTE', HEAD, GOLD, width=568)
txt(1488, 2128, 'Dividendenrendite, jüngste Renditen in Lokalw.', SUB)
txt(1488, 2173, '(MSCI-Indizes)', SUB)
table(R0, R1, RC, 2223, 2241, ['RENDITE (%)', '1J. (%)', '3 J. (%)'], eq_labels, [eq_yield, eq_1y, eq_3y])
txt(1488, 2701, 'Quelle: Bloomberg, Rothschild & Co', SRC, SRC_C)

tracked(654, 2802, 'SELECTED EXCHANGE RATES', HEAD, GOLD, width=523)
txt(654, 2847, 'Handelsgew. Indizes, nominal (1980 = 100)', SUB)
table(L0, L1, LC, 2908, 2926, ['NIVEAU', '1J. (%)', '3 J. (%)'], fx_labels, [fx_level, fx_1y, fx_3y])
txt(654, 3289, 'Quelle: Bloomberg, Rothschild & Co', SRC, SRC_C)

tracked(1488, 2802, 'ROHSTOFFE UND VOLATILITÄT', HEAD, GOLD, width=552)
table(R0, R1, RC, 2908, 2926, ['NIVEAU', '1J. (%)', '3 J. (%)'], com_labels, [com_level, com_1y, com_3y])
txt(1488, 3289, 'Quelle: Thomson Reuters, Bloomberg, Rothschild & Co', SRC, SRC_C)

# ---------------- side notes & footer ----------------
side = ['Daten korrekt per', '30. August 2022.', None, 'Die in der Vergangenheit', 'erzielte Performance ist kein',
        'zuverlässiger Massstab für die', 'künftige Wertentwicklung.']
side_y = [3086, 3122, None, 3181, 3217, 3253, 3288]
for s, y in zip(side, side_y):
    if s:
        txt(239, y, s, SIDE, '#555555')

tracked(133, 3406, 'MARKTAUSBLICK', 22, '#111111', 'bold', width=300)
txt(460, 3404, 'I', 19, '#555555')
tracked(487, 3406, 'SEPTEMBER 2022', 22, '#222222', 'normal', width=295)
txt(2367, 3402, '14', 21, '#111111', 'bold', ha='right')

fig.savefig('out.png', dpi=100, facecolor='white')
